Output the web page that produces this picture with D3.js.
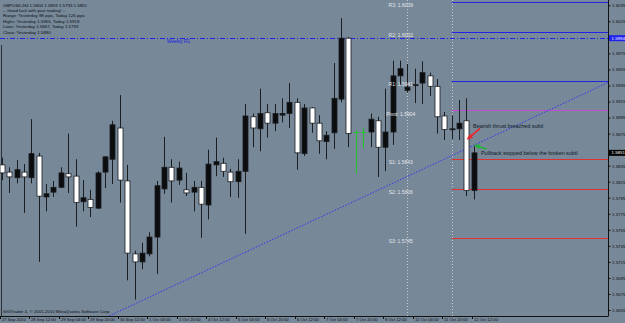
<!DOCTYPE html>
<html>
<head>
<meta charset="utf-8" />
<title>GBPUSD H4</title>
<script src="https://d3js.org/d3.v7.min.js"></script>
<style>
  body { margin: 0; background: #778899; }
  svg { display: block; font-family: "Liberation Sans", Arial, sans-serif; }
</style>
</head>
<body>
<svg width="625" height="323"></svg>
<script>
// H4 bars, 27 Sep 20:00 .. 12 Oct 12:00 (bar index 0..64)
const opens  = [1.5836,1.5827,1.5820,1.5827,1.5820,1.5847,1.5796,1.5802,1.5808,1.5825,
                1.5822,1.5790,1.5793,1.5782,1.5827,1.5843,1.5882,1.5816,1.5725,1.5715,
                1.5725,1.5746,1.5806,1.5833,1.5817,1.5805,1.5802,1.5808,1.5786,1.5836,
                1.5838,1.5827,1.5815,1.5828,1.5896,1.5881,1.5901,1.5888,1.5898,1.5900,
                1.5914,1.5850,1.5907,1.5888,1.5865,1.5876,1.5918,1.5994,1.5877,1.5877,
                1.5877,1.5891,1.5858,1.5877,1.5947,1.5929,1.5935,1.5938,1.5947,1.5934,
                1.5897,1.5880,1.5881,1.5891,1.5804];
const highs  = [1.5845,1.5833,1.5842,1.5837,1.5893,1.5851,1.5812,1.5816,1.5833,1.5875,
                1.5843,1.5817,1.5805,1.5828,1.5847,1.5891,1.5923,1.5836,1.5729,1.5739,
                1.5752,1.5816,1.5871,1.5843,1.5840,1.5826,1.5816,1.5816,1.5855,1.5870,
                1.5845,1.5831,1.5843,1.5912,1.5900,1.5931,1.5912,1.5912,1.5919,1.5938,
                1.5919,1.5912,1.5908,1.5898,1.5878,1.5963,1.6019,1.5995,1.5879,1.5882,
                1.5900,1.5896,1.5931,1.5966,1.5966,1.5962,1.5956,1.5965,1.5951,1.5943,
                1.5902,1.5898,1.5917,1.5919,1.5859];
const lows   = [1.5817,1.5801,1.5813,1.5776,1.5813,1.5715,1.5778,1.5796,1.5807,1.5801,
                1.5759,1.5778,1.5771,1.5781,1.5807,1.5812,1.5789,1.5692,1.5668,1.5706,
                1.5722,1.5700,1.5800,1.5789,1.5811,1.5797,1.5778,1.5745,1.5768,1.5822,
                1.5821,1.5796,1.5795,1.5750,1.5858,1.5853,1.5870,1.5878,1.5889,1.5882,
                1.5830,1.5847,1.5876,1.5850,1.5843,1.5856,1.5914,1.5858,1.5825,1.5857,
                1.5858,1.5821,1.5828,1.5861,1.5936,1.5926,1.5913,1.5912,1.5922,1.5875,
                1.5867,1.5868,1.5867,1.5797,1.5793];
const closes = [1.5826,1.5821,1.5830,1.5821,1.5850,1.5797,1.5800,1.5808,1.5826,1.5821,
                1.5789,1.5795,1.5783,1.5826,1.5846,1.5886,1.5817,1.5726,1.5715,1.5726,
                1.5746,1.5810,1.5833,1.5816,1.5832,1.5801,1.5808,1.5787,1.5837,1.5840,
                1.5828,1.5815,1.5828,1.5897,1.5882,1.5900,1.5888,1.5900,1.5900,1.5914,
                1.5851,1.5907,1.5888,1.5866,1.5873,1.5919,1.5994,1.5875,1.5877,1.5877,
                1.5893,1.5858,1.5877,1.5947,1.5956,1.5933,1.5936,1.5951,1.5934,1.5896,
                1.5880,1.5881,1.5888,1.5804,1.5851];

const timeBars   = [0,4,8,12,16,20,24,28,32,36,40,44,48,52,56,60,64];
const timeLabels = ["27 Sep 2010","28 Sep 12:00","29 Sep 04:00","29 Sep 20:00","30 Sep 12:00",
                    "1 Oct 04:00","1 Oct 20:00","4 Oct 12:00","5 Oct 04:00","5 Oct 20:00",
                    "6 Oct 12:00","7 Oct 04:00","7 Oct 20:00","8 Oct 12:00","11 Oct 04:00",
                    "11 Oct 20:00","12 Oct 12:00"];
const priceTicks = [1.6035,1.6015,1.5975,1.5955,1.5935,1.5915,1.5895,1.5875,1.5835,1.5815,
                    1.5795,1.5775,1.5755,1.5735,1.5715,1.5695,1.5675,1.5655];

// daily pivots for 12 Oct
const pivotNames  = ["R3","R2","R1","Pivot","S1","S2","S3"];
const pivotValues = [1.6039,1.6002,1.5941,1.5904,1.5843,1.5806,1.5745];
const pivotStartBar = 61;
const pivotLabelBar = 54.1;
const weeklyR1 = 1.5994;
const weeklyLabelBar = 22.4;
const separatorBars = [55, 61];
const lastPrice = 1.5851;

// hand drawn trendline (bar index, price)
const trendBars   = [14.55, 82.2];
const trendPrices = [1.56476, 1.59387];

const infoLines = [
  "GBPUSD,H4  1.5804 1.5859 1.5793 1.5851",
  "-- Good luck with your trading! --",
  "Range: Yesterday 98 pips, Today 126 pips",
  "Highs: Yesterday 1.5965, Today 1.5919",
  "Lows: Yesterday 1.5867, Today 1.5793",
  "Close: Yesterday 1.5880"
];

// text notes and arrows (bar index, price)
const notes = [
  { text: "Bearish thrust breached subtl", bar: 63.9, price: 1.58824 },
  { text: "Pullback stopped below the broken subtl", bar: 64.98, price: 1.58483 }
];
const arrows = [
  { from: [64.84, 1.58816], to: [63.17, 1.58683], color: "#e8262a" },
  { from: [65.74, 1.58555], to: [64.17, 1.58604], color: "#22b43a" }
];

const svg = d3.select("svg");
const W = 625, H = 323, plotW = 608, plotH = 316;

const x = d3.scaleLinear().domain([0, 64]).range([1.8, 473.8]);
const y = d3.scaleLinear().domain([1.56488, 1.60416]).range([315, 0]);

svg.append("rect").attr("width", W).attr("height", H).attr("fill", "#778899");

const defs = svg.append("defs");
defs.append("clipPath").attr("id", "plot")
  .append("rect").attr("width", plotW).attr("height", plotH);
arrows.forEach((a, i) => {
  defs.append("marker").attr("id", "ah" + i)
    .attr("viewBox", "0 0 10 10").attr("refX", 8).attr("refY", 5)
    .attr("markerWidth", 4).attr("markerHeight", 4).attr("orient", "auto-start-reverse")
    .append("path").attr("d", "M0,1 L10,5 L0,9 z").attr("fill", a.color);
});

const g = svg.append("g").attr("clip-path", "url(#plot)");

// day separators
g.selectAll(".sep").data(separatorBars).join("line")
  .attr("x1", d => Math.round(x(d)) + 0.5).attr("x2", d => Math.round(x(d)) + 0.5)
  .attr("y1", 0).attr("y2", plotH)
  .attr("stroke", "#c4cad0").attr("stroke-dasharray", "1,2");

// left edge line
g.append("line").attr("x1", 1.5).attr("x2", 1.5).attr("y1", 45).attr("y2", plotH)
  .attr("stroke", "#2a2f36").attr("stroke-width", 1);

// weekly R1
g.append("line")
  .attr("x1", 0).attr("x2", plotW)
  .attr("y1", Math.round(y(weeklyR1)) + 0.5).attr("y2", Math.round(y(weeklyR1)) + 0.5)
  .attr("stroke", "#2222e6").attr("stroke-dasharray", "5,2,1,2");
g.append("text").attr("x", x(weeklyLabelBar)).attr("y", y(weeklyR1) + 5)
  .attr("font-size", 4.8).attr("fill", "#1c1ce0").text("Weekly R1");

// daily pivot lines
const pivotColor = n => n.startsWith("R") ? "#2424e4" : n === "Pivot" ? "#c44ad2" : "#e03030";
g.selectAll(".pv").data(pivotValues).join("line")
  .attr("x1", x(pivotStartBar)).attr("x2", plotW)
  .attr("y1", d => Math.round(y(d)) + 0.5).attr("y2", d => Math.round(y(d)) + 0.5)
  .attr("stroke", (d, i) => pivotColor(pivotNames[i])).attr("stroke-width", 1);

// trendline
g.append("line")
  .attr("x1", x(trendBars[0])).attr("y1", y(trendPrices[0]))
  .attr("x2", x(trendBars[1])).attr("y2", y(trendPrices[1]))
  .attr("stroke", "#3535ee").attr("stroke-dasharray", "1.5,1.5");

// candles
const bars = d3.range(opens.length).map(i => ({
  i, o: opens[i], h: highs[i], l: lows[i], c: closes[i]
}));
const cx = d => Math.round(x(d.i)) + 0.5;
g.selectAll(".wick").data(bars).join("line")
  .attr("x1", cx).attr("x2", cx)
  .attr("y1", d => y(d.h)).attr("y2", d => y(d.l))
  .attr("stroke", d => d.o === d.c ? "#1fc02a" : "#1b1d20").attr("stroke-width", 1);
g.selectAll(".body").data(bars.filter(d => d.o !== d.c)).join("rect")
  .attr("x", d => cx(d) - 2.5).attr("width", 5)
  .attr("y", d => y(Math.max(d.o, d.c)))
  .attr("height", d => Math.max(1, Math.abs(y(d.o) - y(d.c))))
  .attr("fill", d => d.c > d.o ? "#0b0c0e" : "#ffffff")
  .attr("stroke", "#1b1d20").attr("stroke-width", 0.8);
g.selectAll(".doji").data(bars.filter(d => d.o === d.c)).join("line")
  .attr("x1", d => cx(d) - 2.5).attr("x2", d => cx(d) + 2.5)
  .attr("y1", d => Math.round(y(d.o)) + 0.5).attr("y2", d => Math.round(y(d.o)) + 0.5)
  .attr("stroke", "#1fc02a");

// pivot labels on top of candles
g.selectAll(".pvl").data(pivotValues).join("text")
  .attr("x", x(pivotLabelBar)).attr("y", d => y(d) + 5.2)
  .attr("text-anchor", "middle").attr("font-size", 5).attr("fill", "#e4e6ea")
  .text((d, i) => `${pivotNames[i]}: ${d.toFixed(4)}`);

// notes
g.selectAll(".note").data(notes).join("text")
  .attr("x", d => x(d.bar)).attr("y", d => y(d.price))
  .attr("font-size", 5.4).attr("fill", "#111a28").text(d => d.text);
arrows.forEach((a, i) => {
  g.append("line")
    .attr("x1", x(a.from[0])).attr("y1", y(a.from[1]))
    .attr("x2", x(a.to[0])).attr("y2", y(a.to[1]))
    .attr("stroke", a.color).attr("stroke-width", 1.6)
    .attr("marker-end", `url(#ah${i})`);
});

// info text
svg.append("g").selectAll("text").data(infoLines).join("text")
  .attr("x", 3).attr("y", (d, i) => 6.6 + i * 5.4)
  .attr("font-size", 4.4).attr("fill", "#0d0f12").text(d => d);
svg.append("text").attr("x", 3).attr("y", 313.2).attr("font-size", 4.4)
  .attr("fill", "#0d0f12").text("SIGTrader 4, \u00a9 2001-2010 MetaQuotes Software Corp.");

// price axis
const yAxis = svg.append("g").attr("transform", `translate(${plotW + 0.5},0)`)
  .call(d3.axisRight(y).tickValues(priceTicks).tickSize(2).tickPadding(1.5)
    .tickFormat(d3.format(".4f")));
yAxis.select(".domain").attr("d", `M0,0V${plotH}`).attr("stroke", "#111");
yAxis.selectAll(".tick line").attr("stroke", "#111");
yAxis.selectAll("text").attr("font-size", 4.4).attr("fill", "#0d0f12")
  .attr("font-family", "Liberation Sans, Arial, sans-serif");

// price tags
const tags = [
  { v: weeklyR1, bg: "#2020f0" },
  { v: lastPrice, bg: "#000000" }
];
const tg = svg.append("g").selectAll("g").data(tags).join("g")
  .attr("transform", d => `translate(${plotW + 1},${y(d.v)})`);
tg.append("rect").attr("x", 0).attr("y", -3).attr("width", 16).attr("height", 6)
  .attr("fill", d => d.bg);
tg.append("text").attr("x", 2.5).attr("y", 1.6).attr("font-size", 4.4)
  .attr("fill", "#ffffff").text(d => d.v.toFixed(4));

// time axis
svg.append("line").attr("x1", 0).attr("x2", plotW + 0.5)
  .attr("y1", plotH + 0.5).attr("y2", plotH + 0.5).attr("stroke", "#111");
const xt = svg.append("g").selectAll("g").data(timeBars).join("g")
  .attr("transform", d => `translate(${Math.round(x(d)) - 1.5},${plotH})`);
xt.append("line").attr("y1", 0).attr("y2", 3).attr("stroke", "#111");
xt.append("text").attr("x", 1.5).attr("y", 5.3).attr("font-size", 4.2)
  .attr("fill", "#0d0f12").text((d, i) => timeLabels[i]);
</script>
</body>
</html>
